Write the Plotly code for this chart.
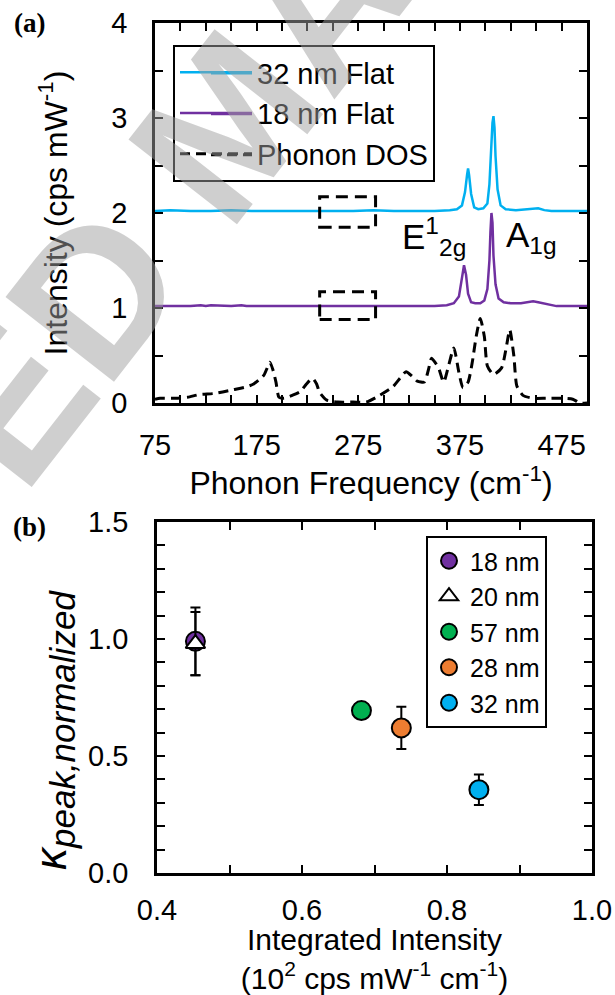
import plotly.graph_objects as go

# ---------------- Panel (a) data ----------------
freq_32 = [75, 90, 110, 130, 150, 170, 190, 210, 230, 250, 270, 290, 310, 330, 350, 365,
           372, 377, 380, 382, 383, 384, 386, 389, 393, 398, 402, 404, 406, 407, 408, 409,
           410, 412, 415, 420, 430, 440, 447, 452, 458, 465, 475, 485, 500]
int_32 = [2.02, 2.03, 2.02, 2.02, 2.03, 2.02, 2.02, 2.02, 2.02, 2.02, 2.02, 2.03, 2.02, 2.02, 2.02, 2.03,
          2.04, 2.08, 2.22, 2.40, 2.47, 2.40, 2.20, 2.06, 2.04, 2.05, 2.10, 2.30, 2.75, 2.95, 3.02, 2.90,
          2.60, 2.25, 2.08, 2.04, 2.03, 2.04, 2.05, 2.05, 2.03, 2.02, 2.02, 2.02, 2.02]

freq_18 = [75, 90, 110, 120, 125, 130, 150, 160, 165, 170, 190, 210, 230, 250, 270, 290, 310,
           330, 350, 362, 369, 374, 377, 379, 381, 383, 386, 390, 395, 399, 402, 404, 405, 406,
           407, 408, 410, 413, 418, 425, 435, 443, 447, 452, 460, 470, 480, 500]
int_18 = [1.02, 1.02, 1.02, 1.03, 1.02, 1.03, 1.02, 1.03, 1.02, 1.02, 1.02, 1.02, 1.02, 1.02, 1.02, 1.02, 1.02,
          1.02, 1.02, 1.03, 1.05, 1.12, 1.30, 1.45, 1.35, 1.15, 1.06, 1.05, 1.05, 1.08, 1.20, 1.50, 1.80, 2.00,
          1.90, 1.55, 1.25, 1.10, 1.06, 1.05, 1.05, 1.06, 1.07, 1.06, 1.04, 1.02, 1.02, 1.02]

freq_dos = [75, 80, 95, 107, 119, 133, 152, 165, 172, 178, 182, 185, 188, 191, 194, 197, 202,
            210, 218, 224, 230, 234, 237, 244, 255, 270, 283, 296, 309, 316, 322, 328, 333,
            340, 344, 347, 351, 354, 359, 364, 369, 374, 378, 383, 387, 391, 395, 399, 402,
            408, 416, 420, 424, 428, 431, 437, 447, 460, 475, 486, 493, 500]
int_dos = [0.04, 0.05, 0.05, 0.06, 0.09, 0.10, 0.14, 0.17, 0.20, 0.25, 0.29, 0.36, 0.43, 0.35, 0.22, 0.06, 0.05,
           0.08, 0.12, 0.20, 0.26, 0.20, 0.11, 0.03, 0.01, 0.01, 0.01, 0.08, 0.17, 0.26, 0.33, 0.28, 0.23,
           0.22, 0.35, 0.47, 0.42, 0.37, 0.22, 0.40, 0.58, 0.32, 0.16, 0.22, 0.42, 0.70, 0.89, 0.70, 0.39,
           0.30, 0.37, 0.55, 0.77, 0.50, 0.18, 0.08, 0.05, 0.05, 0.05, 0.04, 0.00, 0.00]

x_tick_labels_a = [75, 175, 275, 375, 475]
y_tick_labels_a = [0, 1, 2, 3, 4]

# dashed highlight boxes (frequency span, intensity bottom/top)
box_freq = [237, 292]
box_bottom = [1.85, 0.88]
box_top = [2.17, 1.17]

# peak labels
peak_names = ["E<sup>1</sup><sub>2g</sub>", "A<sub>1g</sub>"]
peak_label_freq = [316, 418]
peak_label_int = [1.75, 1.75]

# ---------------- Panel (b) data ----------------
samples = ["18 nm", "20 nm", "57 nm", "28 nm", "32 nm"]
integ_int = [0.453, 0.453, 0.682, 0.737, 0.844]
kappa = [0.99, 0.98, 0.694, 0.62, 0.356]
kappa_err = [0.145, 0.135, None, 0.09, 0.065]
colors_b = ["#7030A0", "white", "#00B050", "#ED7D31", "#00B0F0"]
symbols_b = ["circle", "triangle-up", "circle", "circle", "circle"]

W, H = 615, 995
FONT = "Liberation Sans, Arial, sans-serif"
SERIF = "Liberation Serif, Times New Roman, serif"

line_styles_a = [dict(color="#00B0F0", width=2.5),
                 dict(color="#7030A0", width=2.5),
                 dict(color="black", width=3, dash="10px,6px")]

fig = go.Figure()

fig.add_trace(go.Scatter(x=freq_32, y=int_32, mode="lines", name="32 nm Flat",
                         line=line_styles_a[0],
                         xaxis="x", yaxis="y", legend="legend", legendgroup="g1"))
fig.add_trace(go.Scatter(x=freq_18, y=int_18, mode="lines", name="18 nm Flat",
                         line=line_styles_a[1],
                         xaxis="x", yaxis="y", legend="legend", legendgroup="g2"))
fig.add_trace(go.Scatter(x=freq_dos, y=int_dos, mode="lines", name="Phonon DOS",
                         line=dict(line_styles_a[2], shape="spline", smoothing=0.6),
                         xaxis="x", yaxis="y", legend="legend", legendgroup="g3"))

for i, s in enumerate(samples):
    err = None
    if kappa_err[i] is not None:
        err = dict(type="data", array=[kappa_err[i]], color="black", thickness=2, width=5)
    fig.add_trace(go.Scatter(
        x=[integ_int[i]], y=[kappa[i]], mode="markers", name=s,
        marker=dict(symbol=symbols_b[i], color=colors_b[i], size=19 if symbols_b[i] == "circle" else 17,
                    line=dict(color="black", width=2)),
        error_y=err, xaxis="x2", yaxis="y2", legend="legend2", legendgroup="b%d" % i))

shapes = []
for i in range(len(box_bottom)):
    shapes.append(dict(type="rect", xref="x", yref="y", x0=box_freq[0], x1=box_freq[1],
                       y0=box_bottom[i], y1=box_top[i],
                       line=dict(color="black", width=3, dash="12px,7px")))

# lengthen the legend's line samples (legend layout positions, in pixels)
legend_sample_rows = [73.3, 114.0, 154.7]
for st, row in zip(line_styles_a, legend_sample_rows):
    shapes.append(dict(type="line", xref="paper", yref="paper",
                       x0=211 / W, x1=252 / W, y0=1 - row / H, y1=1 - row / H,
                       line=st))

annotations = []
for i in range(len(peak_names)):
    annotations.append(dict(x=peak_label_freq[i], y=peak_label_int[i], xref="x", yref="y",
                            text=peak_names[i], showarrow=False, xanchor="left", yanchor="middle",
                            font=dict(family=FONT, size=35, color="black")))

annotations += [
    dict(x=29 / W, y=1 - 23 / H, xref="paper", yref="paper", text="<b>(a)</b>", showarrow=False,
         xanchor="center", yanchor="middle", font=dict(family=SERIF, size=27, color="black")),
    dict(x=29 / W, y=1 - 527 / H, xref="paper", yref="paper", text="<b>(b)</b>", showarrow=False,
         xanchor="center", yanchor="middle", font=dict(family=SERIF, size=27, color="black")),
    # y-axis title of panel (b)
    dict(x=54 / W, y=1 - 730 / H, xref="paper", yref="paper", textangle=-90,
         text="<i>κ</i><sub><span style='font-size:35px'><i>peak,normalized</i></span></sub>",
         showarrow=False, xanchor="center", yanchor="middle",
         font=dict(family=FONT, size=44, color="black")),
    # watermark
    dict(x=228 / W, y=1 - 122 / H, xref="paper", yref="paper", text="<b>ACCEPTED MANUSCRIPT</b>",
         showarrow=False, textangle=-52, xanchor="center", yanchor="middle",
         font=dict(family=FONT, size=200, color="rgba(160,160,160,0.5)")),
]

axis_common = dict(showline=True, linecolor="black", linewidth=2.5, mirror="ticks",
                   ticks="inside", ticklen=8, tickwidth=2, tickcolor="black",
                   showgrid=False, zeroline=False, automargin=False,
                   tickfont=dict(family=FONT, size=29, color="black"))
minor_common = dict(ticks="inside", ticklen=8, tickwidth=2, tickcolor="black")

fig.update_layout(
    width=W, height=H, autosize=False,
    margin=dict(l=0, r=0, t=0, b=0, pad=0),
    paper_bgcolor="white", plot_bgcolor="white",
    font=dict(family=FONT, color="black"),
    xaxis=dict(axis_common, domain=[155 / W, 587 / W], anchor="y", range=[75, 500],
               tickvals=x_tick_labels_a, ticklabelstandoff=14,
               minor=dict(minor_common, dtick=25, tick0=75),
               title=dict(text="Phonon Frequency (cm<sup>-1</sup>)", standoff=8,
                          font=dict(family=FONT, size=32, color="black"))),
    yaxis=dict(axis_common, domain=[1 - 403 / H, 1 - 23 / H], anchor="x", range=[0, 4],
               tickvals=y_tick_labels_a, ticklabelstandoff=19,
               minor=dict(minor_common, dtick=0.5),
               title=dict(text="Intensity (cps mW<sup>-1</sup>)", standoff=35,
                          font=dict(family=FONT, size=32, color="black"))),
    xaxis2=dict(axis_common, domain=[157 / W, 592 / W], anchor="y2", range=[0.4, 1.0],
                dtick=0.2, tick0=0.4, tickformat=".1f", ticklabelstandoff=9,
                minor=dict(minor_common, dtick=0.1),
                title=dict(text="Integrated Intensity<br>(10<sup>2</sup> cps mW<sup>-1</sup> cm<sup>-1</sup>)",
                           standoff=2, font=dict(family=FONT, size=30, color="black"))),
    yaxis2=dict(axis_common, domain=[1 - 873 / H, 1 - 522 / H], anchor="x2", range=[0, 1.5],
                dtick=0.5, tickformat=".1f", ticklabelstandoff=20,
                minor=dict(minor_common, dtick=0.1)),
    legend=dict(x=173 / W, y=1 - 45 / H, xref="paper", yref="paper", xanchor="left", yanchor="top",
                bordercolor="black", borderwidth=2, bgcolor="rgba(255,255,255,0)",
                font=dict(family=FONT, size=29, color="black"), tracegroupgap=0,
                itemwidth=72),
    legend2=dict(x=426 / W, y=1 - 536 / H, xref="paper", yref="paper", xanchor="left", yanchor="top",
                 bordercolor="black", borderwidth=2, bgcolor="rgba(255,255,255,0)",
                 font=dict(family=FONT, size=25, color="black"), tracegroupgap=0,
                 itemwidth=32),
    shapes=shapes,
    annotations=annotations,
    showlegend=True,
)

fig.write_html("out.html")
